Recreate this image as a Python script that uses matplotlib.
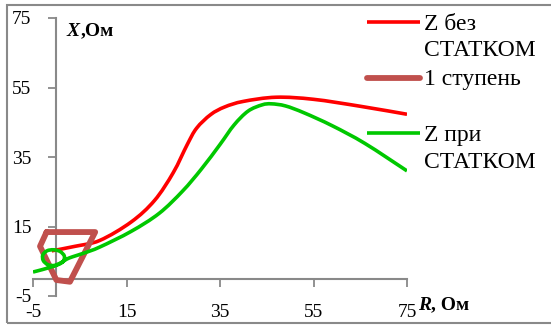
import matplotlib
matplotlib.use("Agg")
import matplotlib.pyplot as plt
from matplotlib.lines import Line2D
from matplotlib.patches import Rectangle, PathPatch
from matplotlib.path import Path
import numpy as np

plt.rcParams['font.family'] = ['Liberation Serif', 'DejaVu Serif']

# Z без СТАТКОМ
red_r = [-1, 4, 9.3, 16, 21, 25, 28, 30, 33, 36, 40, 47, 55, 65, 75]
red_x = [8.0, 9.3, 11.0, 16.3, 22.5, 30.5, 38.6, 43.3, 47.2, 49.4, 51.0, 52.2,
         51.6, 49.6, 47.3]

# 1 ступень
zone_r = [-2.1, 8.3, 2.9, 0.0, -3.5, -2.1]
zone_x = [13.4, 13.4, -0.9, -0.4, 9.3, 13.4]

# Z при СТАТКОМ
green_r = [-5, -3, -1, 0.5, 1.5, 1.7, 0.8, -0.6, -2.0, -2.9, -2.8, -1.8, -0.4,
           1.0, 2.2, 3.5, 6, 9.3, 16, 22, 27, 31, 35, 38, 41, 44, 46, 49, 53,
           59, 66, 75]
green_x = [1.9, 2.6, 3.4, 4.1, 5.0, 6.5, 7.8, 8.3, 8.0, 6.8, 5.2, 4.0, 3.8,
           4.6, 5.6, 6.3, 7.4, 9.1, 13.6, 18.8, 25.2, 31.5, 38.6, 44.2, 48.2, 50.0,
           50.3, 49.7, 47.7, 44.0, 38.9, 31.0]

ticks = [-5, 15, 35, 55, 75]
labels = ['Z без\nСТАТКОМ', '1 ступень', 'Z при\nСТАТКОМ']
colors = ['#FF0000', '#C0504D', '#00C800']


def smooth_path(xs, ys):
    """Excel-like smoothed line: Catmull-Rom segments as cubic Bezier curves."""
    p = np.column_stack([xs, ys]).astype(float)
    n = len(p)
    verts = [p[0]]
    codes = [Path.MOVETO]
    for i in range(n - 1):
        p0 = p[i - 1] if i > 0 else p[i]
        p3 = p[i + 2] if i + 2 < n else p[i + 1]
        c1 = p[i] + (p[i + 1] - p0) / 6.0
        c2 = p[i + 1] - (p3 - p[i]) / 6.0
        verts += [c1, c2, p[i + 1]]
        codes += [Path.CURVE4] * 3
    return Path(verts, codes)


W, H = 551, 325
fig = plt.figure(figsize=(W / 100, H / 100), dpi=100)
ax = fig.add_axes([33 / W, 1 - 296 / H, 374 / W, 278 / H])
ax.set_xlim(-5, 75)
ax.set_ylim(-5, 75)

ax.add_patch(PathPatch(smooth_path(red_r, red_x), fill=False, edgecolor=colors[0],
                       lw=2.6, capstyle='butt', zorder=3))
ax.plot(zone_r, zone_x, color=colors[1], lw=4.2, solid_joinstyle='round',
        solid_capstyle='round', zorder=4)
ax.add_patch(PathPatch(smooth_path(green_r, green_x), fill=False, edgecolor=colors[2],
                       lw=2.6, capstyle='butt', zorder=5))

# tick labels at low position (outside plot area)
for s in ax.spines.values():
    s.set_visible(False)
ax.set_xticks(ticks)
ax.set_yticks(ticks)
ax.set_xticklabels([str(t) for t in ticks])
ax.set_yticklabels([str(t) for t in ticks])
ax.tick_params(axis='both', length=0, labelsize=14)
ax.tick_params(axis='x', pad=6)
ax.tick_params(axis='y', pad=1)

gray = '#898989'
# axis lines crossing at zero
xz = ax.secondary_xaxis(5 / 80)
xz.set_xticks(ticks)
xz.set_xticklabels([])
xz.tick_params(direction='out', length=6, width=1.3, color=gray)
xz.spines['bottom'].set_color(gray)
xz.spines['bottom'].set_linewidth(1.5)
xz.spines['top'].set_visible(False)

yz = ax.secondary_yaxis(5 / 80)
yz.set_yticks(ticks)
yz.set_yticklabels([])
yz.tick_params(direction='out', length=6, width=1.3, color=gray)
yz.spines['left'].set_color(gray)
yz.spines['left'].set_linewidth(1.5)
yz.spines['right'].set_visible(False)

# axis titles (italic bold letter followed by bold unit)
fig.canvas.draw()
renderer = fig.canvas.get_renderer()


def axis_title(x_px, y_px, letter, rest):
    t = fig.text(x_px / W, 1 - y_px / H, letter, fontsize=14, fontweight='bold',
                 style='italic', va='center', ha='left')
    bb = t.get_window_extent(renderer)
    fig.text(bb.x1 / W + 0.5 / W, 1 - y_px / H, rest, fontsize=14, fontweight='bold',
             va='center', ha='left')


axis_title(67, 31, 'X', ',Ом')
axis_title(418, 305, 'R', ', Ом')

# legend
leg_rows = [(21.7, 25, 50), (78, 80, None), (133, 136, 163)]
widths = [2.6, 4.2, 2.6]
for (ly, t1, t2), lab, c, w in zip(leg_rows, labels, colors, widths):
    fig.add_artist(Line2D([367 / W, 420 / W], [1 - ly / H, 1 - ly / H], color=c,
                          lw=w, solid_capstyle='round' if w > 3 else 'butt'))
    parts = lab.split('\n')
    fig.text(424 / W, 1 - t1 / H, parts[0], fontsize=17, va='center', ha='left')
    if t2 is not None:
        fig.text(424 / W, 1 - t2 / H, parts[1], fontsize=17, va='center', ha='left')

# chart border
fig.add_artist(Rectangle((7 / W, 1 - 323 / H), 1.2, 318 / H, fill=False,
                         edgecolor=gray, lw=1.5, transform=fig.transFigure))

fig.savefig('out.png', dpi=100)
